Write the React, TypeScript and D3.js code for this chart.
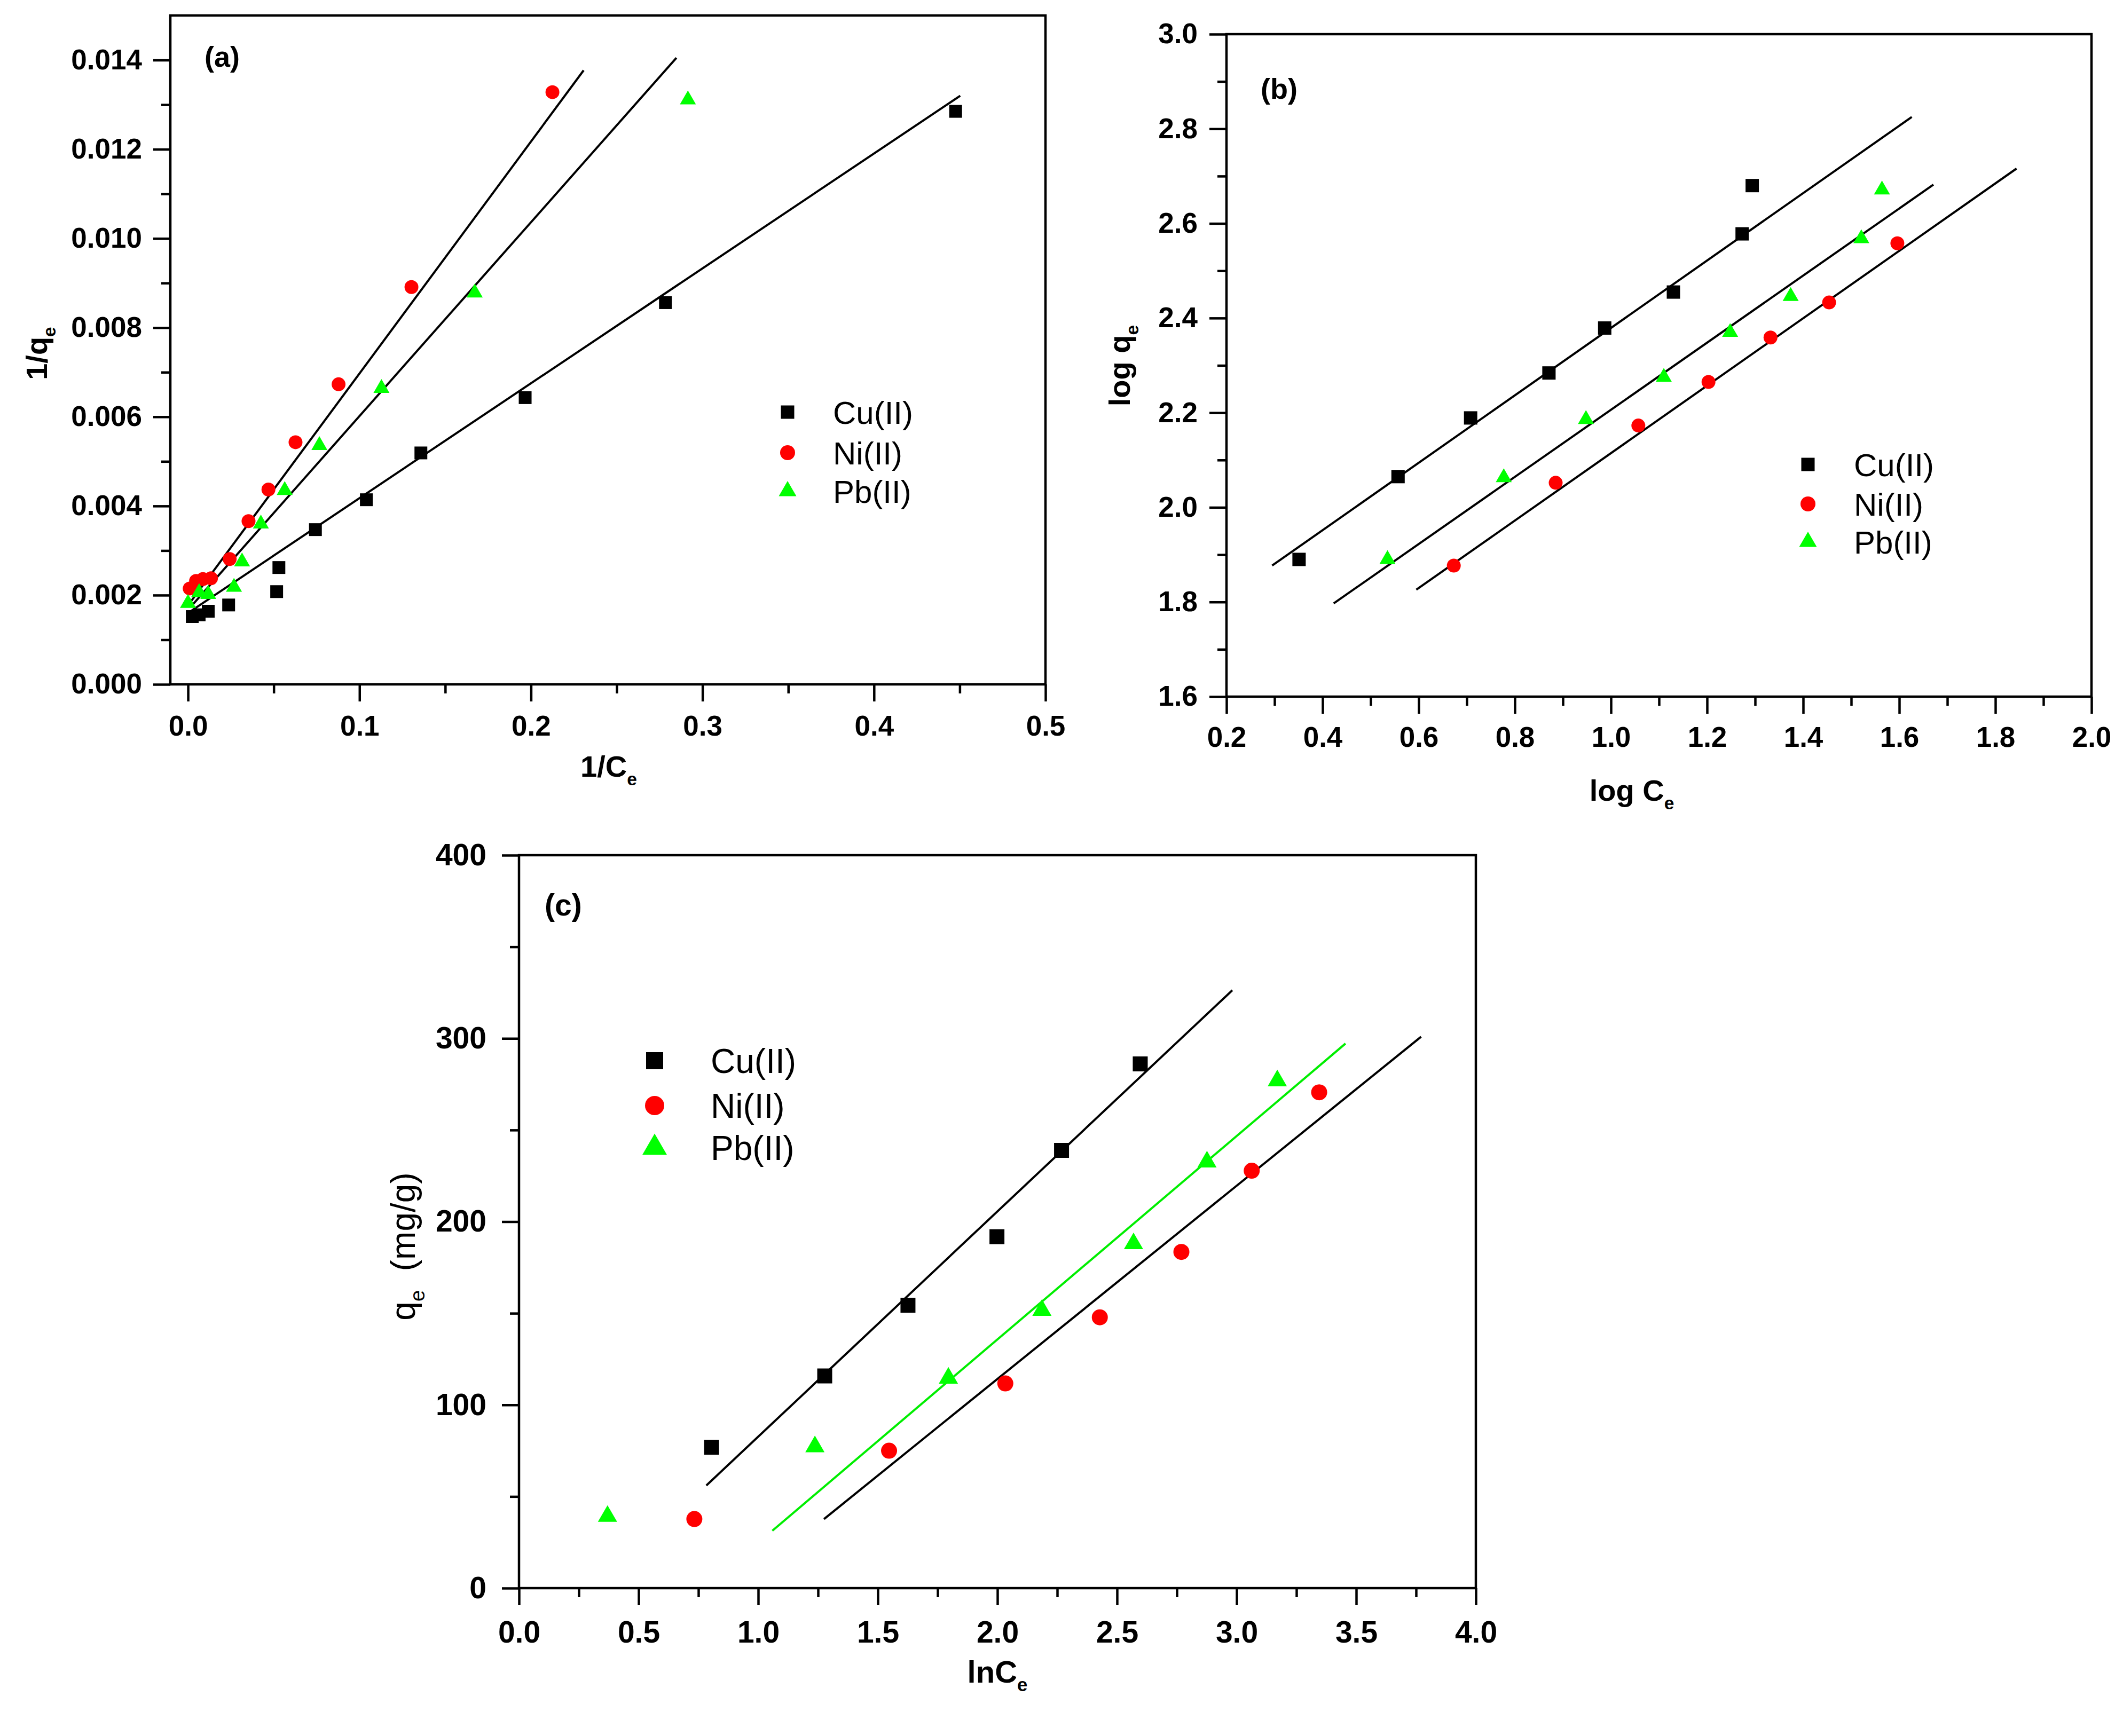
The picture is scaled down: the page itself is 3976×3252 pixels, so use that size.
import React, {useEffect, useRef} from 'react';
import * as d3 from 'd3';

const seriesNames = ['Cu(II)', 'Ni(II)', 'Pb(II)'];

// (a) Langmuir: 1/Ce vs 1/qe
const cuLangmuir: [number, number][] = [
  [0.0025, 0.00152], [0.0065, 0.00156], [0.0118, 0.00164], [0.0237, 0.00178],
  [0.0517, 0.00208], [0.053, 0.00262], [0.0743, 0.00347], [0.104, 0.00414],
  [0.1358, 0.00519], [0.1966, 0.00643], [0.2784, 0.00856], [0.4476, 0.01285],
];
const niLangmuir: [number, number][] = [
  [0.001, 0.00215], [0.0047, 0.00232], [0.0087, 0.00236], [0.0134, 0.00238],
  [0.0243, 0.00281], [0.0353, 0.00366], [0.0469, 0.00437], [0.0627, 0.00543],
  [0.0878, 0.00673], [0.1303, 0.00891], [0.2125, 0.01328],
];
const pbLangmuir: [number, number][] = [
  [0.0, 0.00182], [0.0065, 0.00206], [0.0118, 0.00202], [0.0268, 0.00218],
  [0.0315, 0.00275], [0.0425, 0.0036], [0.0564, 0.00435], [0.0766, 0.00536],
  [0.1128, 0.00664], [0.1672, 0.00878], [0.2915, 0.01311],
];
const cuLangmuirFit: [number, number][] = [[0.0, 0.0016], [0.4503, 0.0132]];
const niLangmuirFit: [number, number][] = [[0.0, 0.00177], [0.2307, 0.01377]];
const pbLangmuirFit: [number, number][] = [[0.003, 0.0018], [0.2848, 0.01405]];

// (b) Freundlich: log Ce vs log qe
const cuFreundlich: [number, number][] = [
  [0.351, 1.89], [0.557, 2.065], [0.708, 2.189], [0.871, 2.284],
  [0.987, 2.379], [1.13, 2.455], [1.273, 2.578], [1.294, 2.68],
];
const niFreundlich: [number, number][] = [
  [0.673, 1.877], [0.885, 2.052], [1.057, 2.173], [1.203, 2.265],
  [1.332, 2.359], [1.454, 2.433], [1.596, 2.558],
];
const pbFreundlich: [number, number][] = [
  [0.535, 1.89], [0.777, 2.063], [0.948, 2.186], [1.11, 2.275],
  [1.248, 2.37], [1.374, 2.446], [1.521, 2.568], [1.564, 2.671],
];
const cuFreundlichFit: [number, number][] = [[0.295, 1.877], [1.626, 2.825]];
const niFreundlichFit: [number, number][] = [[0.595, 1.826], [1.844, 2.716]];
const pbFreundlichFit: [number, number][] = [[0.423, 1.797], [1.671, 2.682]];

// (c) Temkin: lnCe vs qe
const cuTemkin: [number, number][] = [
  [0.805, 76.9], [1.278, 115.8], [1.626, 154.4], [1.998, 191.8], [2.268, 238.9], [2.597, 286.1],
];
const niTemkin: [number, number][] = [
  [0.733, 37.7], [1.547, 75.0], [2.033, 111.7], [2.428, 147.8], [2.769, 183.5], [3.063, 227.8], [3.345, 270.6],
];
const pbTemkin: [number, number][] = [
  [0.37, 39.2], [1.237, 77.2], [1.795, 114.6], [2.186, 151.6], [2.569, 188.0], [2.876, 232.6], [3.17, 276.9],
];
const cuTemkinFit: [number, number][] = [[0.783, 56.0], [2.982, 326.3]];
const niTemkinFit: [number, number][] = [[1.275, 37.7], [3.771, 300.9]];
const pbTemkinFit: [number, number][] = [[1.059, 31.3], [3.455, 297.2]];

// ticks
const aXTicks = [0, 0.1, 0.2, 0.3, 0.4, 0.5];
const aXMinor = [0.05, 0.15, 0.25, 0.35, 0.45];
const aYTicks = [0, 0.002, 0.004, 0.006, 0.008, 0.01, 0.012, 0.014];
const aYMinor = [0.001, 0.003, 0.005, 0.007, 0.009, 0.011, 0.013];
const bXTicks = [0.2, 0.4, 0.6, 0.8, 1.0, 1.2, 1.4, 1.6, 1.8, 2.0];
const bXMinor = [0.3, 0.5, 0.7, 0.9, 1.1, 1.3, 1.5, 1.7, 1.9];
const bYTicks = [1.6, 1.8, 2.0, 2.2, 2.4, 2.6, 2.8, 3.0];
const bYMinor = [1.7, 1.9, 2.1, 2.3, 2.5, 2.7, 2.9];
const cXTicks = [0, 0.5, 1, 1.5, 2, 2.5, 3, 3.5, 4];
const cXMinor = [0.25, 0.75, 1.25, 1.75, 2.25, 2.75, 3.25, 3.75];
const cYTicks = [0, 100, 200, 300, 400];
const cYMinor = [50, 150, 250, 350];

const FONT = '"Liberation Sans", Arial, sans-serif';

type Pt = [number, number];
type TextPart = [string, boolean?];

interface Series {
  pts: Pt[];
  fit: Pt[];
  shape: d3.SymbolType;
  color: string;
  lineColor: string;
  size: number;
  legendSize: number;
}

interface PanelCfg {
  frame: {l: number; r: number; t: number; b: number};
  xDomain: [number, number];
  yDomain: [number, number];
  xTicks: number[];
  xMinor: number[];
  yTicks: number[];
  yMinor: number[];
  xFmt: (d: number) => string;
  yFmt: (d: number) => string;
  tickFont: number;
  padX: number;
  padY: number;
  series: Series[];
  legend: {mx: number; tx: number; ys: number[]; font: number};
  label: {text: string; x: number; y: number; font: number};
  xTitle: {parts: TextPart[]; x: number; y: number; font: number; weight: string};
  yTitle: {parts: TextPart[]; x: number; y: number; font: number; weight: string};
}

const area = {
  square: (s: number) => s * s,
  circle: (d: number) => (Math.PI * d * d) / 4,
  triangle: (s: number) => (s * s * Math.sqrt(3)) / 4,
};

const mk = (
  pts: Pt[], fit: Pt[], i: number, sz: number[], lsz: number[], lineColor = '#000'
): Series => {
  const shapes = [d3.symbolSquare, d3.symbolCircle, d3.symbolTriangle];
  const colors = ['#000000', '#ff0000', '#00ff00'];
  const fns = [area.square, area.circle, area.triangle];
  return {
    pts, fit, shape: shapes[i], color: colors[i], lineColor,
    size: fns[i](sz[i]), legendSize: fns[i](lsz[i]),
  };
};

const panels: PanelCfg[] = [
  {
    frame: {l: 319, r: 1958, t: 29, b: 1282},
    xDomain: [-0.0103, 0.5],
    yDomain: [0, 0.015],
    xTicks: aXTicks, xMinor: aXMinor, yTicks: aYTicks, yMinor: aYMinor,
    xFmt: d3.format('.1f'), yFmt: d3.format('.3f'),
    tickFont: 53, padX: 26, padY: 21,
    series: [
      mk(cuLangmuir, cuLangmuirFit, 0, [24, 26, 30], [25, 28, 33]),
      mk(niLangmuir, niLangmuirFit, 1, [24, 26, 30], [25, 28, 33]),
      mk(pbLangmuir, pbLangmuirFit, 2, [24, 26, 30], [25, 28, 33]),
    ],
    legend: {mx: 1475, tx: 1560, ys: [772, 848, 920], font: 60},
    label: {text: '(a)', x: 383, y: 125, font: 54},
    xTitle: {parts: [['1/C'], ['e', true]], x: 1140, y: 1455, font: 56, weight: 'bold'},
    yTitle: {parts: [['1/q'], ['e', true]], x: 88, y: 662, font: 56, weight: 'bold'},
  },
  {
    frame: {l: 2297, r: 3917, t: 64, b: 1305},
    xDomain: [0.2, 2.0],
    yDomain: [1.6, 3.0],
    xTicks: bXTicks, xMinor: bXMinor, yTicks: bYTicks, yMinor: bYMinor,
    xFmt: d3.format('.1f'), yFmt: d3.format('.1f'),
    tickFont: 53, padX: 24, padY: 22,
    series: [
      mk(cuFreundlich, cuFreundlichFit, 0, [25, 26, 30], [25, 28, 33]),
      mk(niFreundlich, niFreundlichFit, 1, [25, 26, 30], [25, 28, 33]),
      mk(pbFreundlich, pbFreundlichFit, 2, [25, 26, 30], [25, 28, 33]),
    ],
    legend: {mx: 3386, tx: 3472, ys: [870, 944, 1015], font: 60},
    label: {text: '(b)', x: 2361, y: 185, font: 54},
    xTitle: {parts: [['log C'], ['e', true]], x: 3056, y: 1500, font: 56, weight: 'bold'},
    yTitle: {parts: [['log q'], ['e', true]], x: 2116, y: 685, font: 56, weight: 'bold'},
  },
  {
    frame: {l: 972, r: 2764, t: 1602, b: 2975},
    xDomain: [0, 4],
    yDomain: [0, 400],
    xTicks: cXTicks, xMinor: cXMinor, yTicks: cYTicks, yMinor: cYMinor,
    xFmt: d3.format('.1f'), yFmt: d3.format('d'),
    tickFont: 57, padX: 30, padY: 29,
    series: [
      mk(cuTemkin, cuTemkinFit, 0, [28, 30, 36], [32, 36, 46]),
      mk(niTemkin, niTemkinFit, 1, [28, 30, 36], [32, 36, 46]),
      mk(pbTemkin, pbTemkinFit, 2, [28, 30, 36], [32, 36, 46], '#00ee00'),
    ],
    legend: {mx: 1226, tx: 1331, ys: [1987, 2071, 2150], font: 64},
    label: {text: '(c)', x: 1020, y: 1715, font: 57},
    xTitle: {parts: [['lnC'], ['e', true]], x: 1868, y: 3152, font: 58, weight: 'bold'},
    yTitle: {parts: [['q'], ['e', true], ['  (mg/g)']], x: 777, y: 2335, font: 64, weight: 'normal'},
  },
];

function addText(
  g: d3.Selection<SVGGElement, unknown, null, undefined>,
  parts: TextPart[], x: number, y: number, font: number, weight: string, rotate = false
) {
  const t = g
    .append('text')
    .attr('transform', `translate(${x},${y})${rotate ? ' rotate(-90)' : ''}`)
    .attr('text-anchor', 'middle')
    .attr('font-family', FONT)
    .attr('font-size', font)
    .attr('font-weight', weight)
    .attr('xml:space', 'preserve')
    .style('white-space', 'pre');
  parts.forEach(([s, sub], i) => {
    const span = t.append('tspan').text(s);
    if (sub) span.attr('font-size', font * 0.6).attr('dy', font * 0.28);
    else if (i > 0 && parts[i - 1][1]) span.attr('dy', -font * 0.28);
  });
}

const App: React.FC = () => {
  const ref = useRef<SVGSVGElement | null>(null);

  useEffect(() => {
    document.body.style.margin = '0';
    if (!ref.current) return;
    const svg = d3.select(ref.current);
    svg.selectAll('*').remove();

    panels.forEach((p) => {
      const {l, r, t, b} = p.frame;
      const x = d3.scaleLinear().domain(p.xDomain).range([l, r]);
      const y = d3.scaleLinear().domain(p.yDomain).range([b, t]);
      const g = svg.append('g');

      const styleAxis = (sel: d3.Selection<SVGGElement, unknown, null, undefined>) => {
        sel.select('.domain').remove();
        sel.selectAll('line').attr('stroke', '#000').attr('stroke-width', 4.5);
        sel
          .attr('font-family', FONT)
          .attr('font-size', p.tickFont)
          .attr('font-weight', 'bold')
          .selectAll('text')
          .attr('fill', '#000');
      };

      g.append('g')
        .attr('transform', `translate(0,${b})`)
        .call(d3.axisBottom(x).tickValues(p.xMinor).tickSize(17).tickFormat(() => ''))
        .call(styleAxis);
      g.append('g')
        .attr('transform', `translate(0,${b})`)
        .call(d3.axisBottom(x).tickValues(p.xTicks).tickSize(32).tickPadding(p.padX).tickFormat((d) => p.xFmt(+d)))
        .call(styleAxis);
      g.append('g')
        .attr('transform', `translate(${l},0)`)
        .call(d3.axisLeft(y).tickValues(p.yMinor).tickSize(17).tickFormat(() => ''))
        .call(styleAxis);
      g.append('g')
        .attr('transform', `translate(${l},0)`)
        .call(d3.axisLeft(y).tickValues(p.yTicks).tickSize(32).tickPadding(p.padY).tickFormat((d) => p.yFmt(+d)))
        .call(styleAxis);

      // frame
      g.append('rect')
        .attr('x', l).attr('y', t)
        .attr('width', r - l).attr('height', b - t)
        .attr('fill', 'none').attr('stroke', '#000').attr('stroke-width', 4.5);

      const line = d3.line<Pt>().x((d) => x(d[0])).y((d) => y(d[1]));

      p.series.forEach((s) => {
        g.append('path')
          .attr('d', line(s.fit))
          .attr('fill', 'none')
          .attr('stroke', s.lineColor)
          .attr('stroke-width', 4);
      });

      p.series.forEach((s) => {
        const sym = d3.symbol().type(s.shape).size(s.size);
        g.append('g')
          .selectAll('path')
          .data(s.pts)
          .join('path')
          .attr('transform', (d) => `translate(${x(d[0])},${y(d[1])})`)
          .attr('d', sym())
          .attr('fill', s.color);
      });

      // legend
      p.series.forEach((s, i) => {
        const ly = p.legend.ys[i];
        g.append('path')
          .attr('transform', `translate(${p.legend.mx},${ly})`)
          .attr('d', d3.symbol().type(s.shape).size(s.legendSize)())
          .attr('fill', s.color);
        g.append('text')
          .attr('x', p.legend.tx)
          .attr('y', ly)
          .attr('dy', '0.36em')
          .attr('font-family', FONT)
          .attr('font-size', p.legend.font)
          .text(seriesNames[i]);
      });

      g.append('text')
        .attr('x', p.label.x)
        .attr('y', p.label.y)
        .attr('font-family', FONT)
        .attr('font-size', p.label.font)
        .attr('font-weight', 'bold')
        .text(p.label.text);

      addText(g, p.xTitle.parts, p.xTitle.x, p.xTitle.y, p.xTitle.font, p.xTitle.weight);
      addText(g, p.yTitle.parts, p.yTitle.x, p.yTitle.y, p.yTitle.font, p.yTitle.weight, true);
    });
  }, []);

  return (
    <svg
      ref={ref}
      width={3976}
      height={3252}
      viewBox="0 0 3976 3252"
      style={{display: 'block', background: '#fff'}}
    />
  );
};

export default App;
